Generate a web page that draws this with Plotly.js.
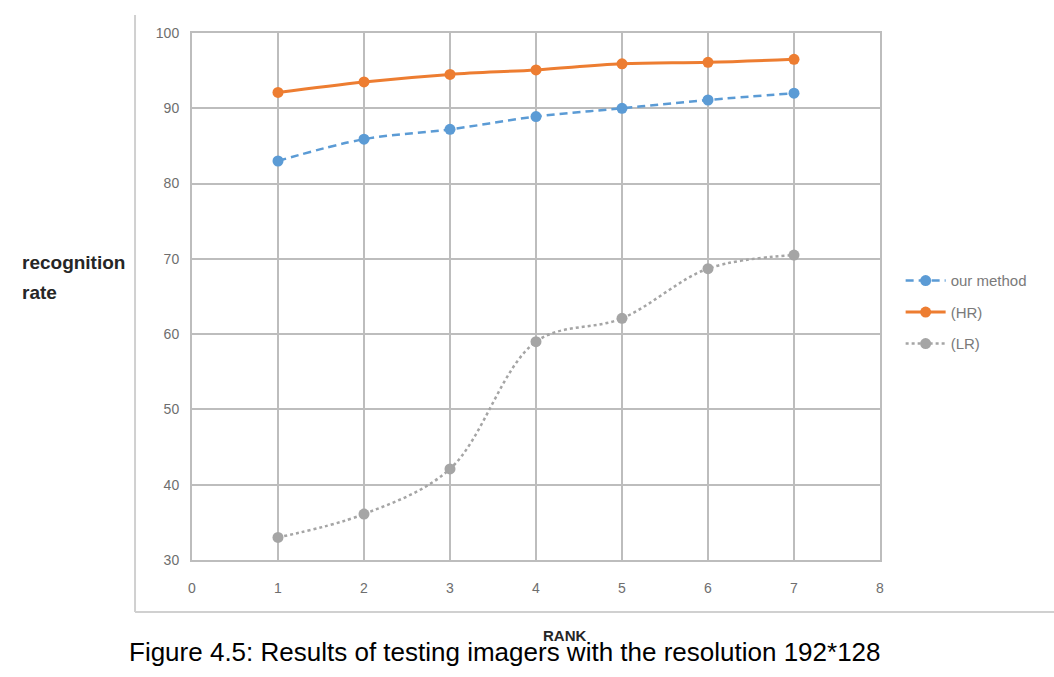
<!DOCTYPE html>
<html>
<head>
<meta charset="utf-8">
<script src="https://cdn.plot.ly/plotly-3.0.1.min.js"></script>
<style>html,body{margin:0;padding:0;background:#fff;}#chart{width:1054px;height:677px;}</style>
</head>
<body>
<div id="chart"></div>
<script>
const rank = [1, 2, 3, 4, 5, 6, 7];
const ourMethod = [83.0, 85.9, 87.2, 88.9, 90.0, 91.1, 92.0];
const hr = [92.1, 93.5, 94.5, 95.1, 95.9, 96.1, 96.5];
const lr = [33.0, 36.1, 42.1, 59.0, 62.1, 68.7, 70.5];
const seriesNames = ['our method', '(HR)', '(LR)'];
const xTicks = [0, 1, 2, 3, 4, 5, 6, 7, 8];
const yTicks = [30, 40, 50, 60, 70, 80, 90, 100];

const gridCol = '#bdbdbd';
const tickFont = {family: 'Liberation Sans, Arial, sans-serif', size: 14, color: '#6e6e6e'};

const traces = [
  {x: rank, y: ourMethod, name: seriesNames[0], legendgroup: 'g1', type: 'scatter', mode: 'lines+markers',
   line: {color: '#5b9bd5', width: 2.5, dash: '8px,5px', shape: 'spline'},
   marker: {color: '#5b9bd5', size: 11}},
  {x: rank, y: hr, name: seriesNames[1], legendgroup: 'g2', type: 'scatter', mode: 'lines+markers',
   line: {color: '#ed7d31', width: 3, shape: 'spline'},
   marker: {color: '#ed7d31', size: 11}},
  {x: rank, y: lr, name: seriesNames[2], legendgroup: 'g3', type: 'scatter', mode: 'lines+markers',
   line: {color: '#a5a5a5', width: 2.5, dash: 'dot', shape: 'spline'},
   marker: {color: '#a5a5a5', size: 11}}
];

const layout = {
  width: 1054, height: 677,
  margin: {l: 192, r: 174, t: 33, b: 117},
  paper_bgcolor: '#ffffff', plot_bgcolor: '#ffffff',
  showlegend: true,
  legend: {x: 1.03, y: 0.47, xanchor: 'left', yanchor: 'middle',
           font: {family: 'Liberation Sans, Arial, sans-serif', size: 15, color: '#7a7a7a'},
           tracegroupgap: 9, itemwidth: 40, bgcolor: 'rgba(0,0,0,0)'},
  xaxis: {range: [0, 8], tickvals: xTicks, ticktext: xTicks.map(String),
          showgrid: true, gridcolor: gridCol, gridwidth: 2,
          showline: true, linecolor: gridCol, linewidth: 2, mirror: true,
          zeroline: false, ticks: '', tickfont: tickFont, ticklabelstandoff: 14},
  yaxis: {range: [30, 100], tickvals: yTicks, ticktext: yTicks.map(String),
          showgrid: true, gridcolor: gridCol, gridwidth: 2,
          showline: true, linecolor: gridCol, linewidth: 2, mirror: true,
          zeroline: false, ticks: '', tickfont: tickFont, ticklabelstandoff: 8},
  shapes: [
    {type: 'line', xref: 'paper', yref: 'paper', x0: -0.0828, x1: -0.0828, y0: 1.034, y1: -0.0987,
     line: {color: '#d0d0d0', width: 2}},
    {type: 'line', xref: 'paper', yref: 'paper', x0: -0.0828, x1: 1.26, y0: -0.0987, y1: -0.0987,
     line: {color: '#d0d0d0', width: 2}}
  ],
  annotations: [
    {xref: 'paper', yref: 'paper', x: -0.250, y: 0.565, xanchor: 'left', yanchor: 'middle',
     text: 'recognition', align: 'left', showarrow: false,
     font: {family: 'Liberation Sans, Arial, sans-serif', size: 19, color: '#262626', weight: 'bold'}},
    {xref: 'paper', yref: 'paper', x: -0.250, y: 0.508, xanchor: 'left', yanchor: 'middle',
     text: 'rate', align: 'left', showarrow: false,
     font: {family: 'Liberation Sans, Arial, sans-serif', size: 19, color: '#262626', weight: 'bold'}},
    {xref: 'paper', yref: 'paper', x: 0.455, y: -0.1746, xanchor: 'center', yanchor: 'middle',
     text: 'Figure 4.5: Results of testing imagers with the resolution 192*128', showarrow: false,
     font: {family: 'Liberation Sans, Arial, sans-serif', size: 26, color: '#000000'}},
    {xref: 'paper', yref: 'paper', x: 0.542, y: -0.144, xanchor: 'center', yanchor: 'middle',
     text: 'RANK', showarrow: false,
     font: {family: 'Liberation Sans, Arial, sans-serif', size: 15, color: '#262626', weight: 'bold'}}
  ]
};

Plotly.newPlot('chart', traces, layout, {displayModeBar: false, staticPlot: true});
</script>
</body>
</html>
